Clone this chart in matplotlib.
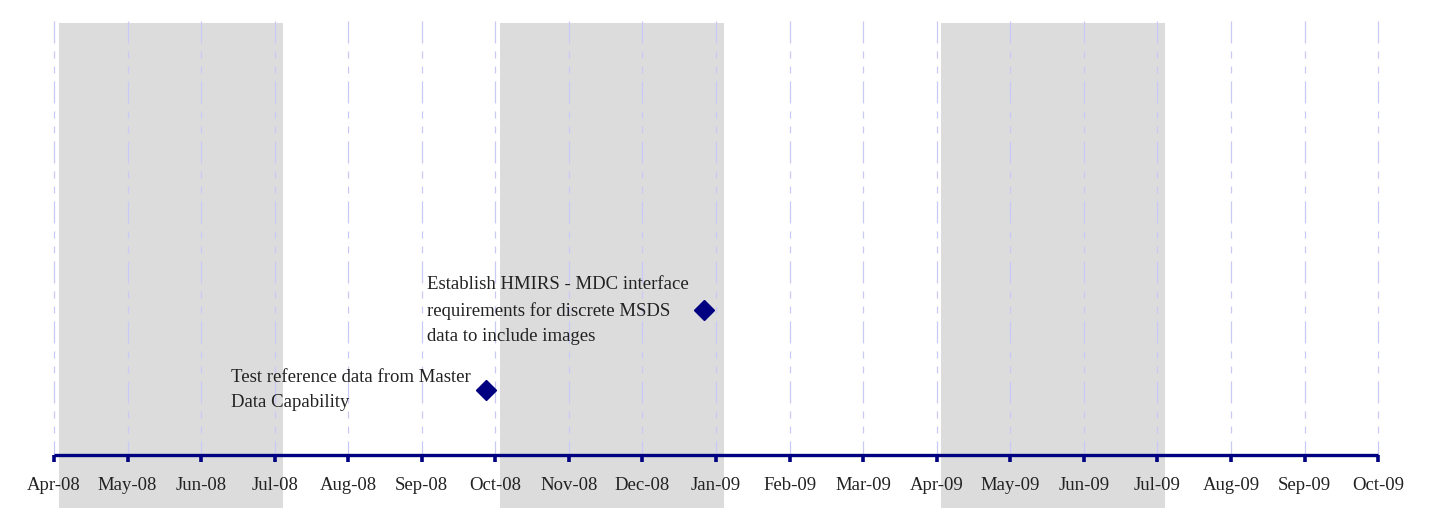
import datetime as dt
import matplotlib
matplotlib.use("Agg")
import matplotlib.pyplot as plt

plt.rcParams['font.family'] = ['Liberation Serif', 'DejaVu Serif']
plt.rcParams['lines.scale_dashes'] = False

# ---- data ----
month_labels = ["Apr-08", "May-08", "Jun-08", "Jul-08", "Aug-08", "Sep-08", "Oct-08",
                "Nov-08", "Dec-08", "Jan-09", "Feb-09", "Mar-09", "Apr-09", "May-09",
                "Jun-09", "Jul-09", "Aug-09", "Sep-09", "Oct-09"]
start_year, start_month = 2008, 4

milestone_dates = ["2008-09-27", "2008-12-27"]
milestone_heights = [0.9, 2.0]
milestone_labels = ["Test reference data from Master\nData Capability",
                    "Establish HMIRS - MDC interface\nrequirements for discrete MSDS\ndata to include images"]

shaded_quarter_starts = [0, 6, 12]   # month index where a shaded quarter begins
quarter_length = 3

NAVY = "#000080"
GRID = "#c9c9f5"
BAND = "#dcdcdc"
TEXT = "#222222"

def month_pos(s):
    d = dt.date.fromisoformat(s)
    idx = (d.year - start_year) * 12 + (d.month - start_month)
    nxt = dt.date(d.year + (d.month // 12), d.month % 12 + 1, 1)
    days = (nxt - dt.date(d.year, d.month, 1)).days
    return idx + (d.day - 1) / days

months = list(range(len(month_labels)))
mx = [month_pos(s) for s in milestone_dates]

fig = plt.figure(figsize=(14.52, 5.08), dpi=100)
ax = fig.add_axes([0, 0, 1, 1])
ax.set_axis_off()

px_per_month = 73.56
ax.set_xlim(-54 / px_per_month, (1452 - 54) / px_per_month)
px_per_unit = 434 / 6.0
ax.set_ylim(-53 / px_per_unit, 6 + 21 / px_per_unit)

# shaded quarters (slightly offset, like a shadow)
for s in shaded_quarter_starts:
    ax.axvspan(s + 4.5 / px_per_month, s + quarter_length + 8 / px_per_month,
               ymin=0, ymax=(508 - 23) / 508, color=BAND, lw=0, zorder=0)

# dashed vertical grid lines (dash-dot-dot)
ax.vlines(months, 6, 0, colors=GRID, linewidth=0.9,
          linestyles=[(0, (15.8, 5.8, 5.0, 5.8, 5.0, 5.8))], zorder=1)

# time axis line
ax.plot([months[0], months[-1]], [0, 0], color=NAVY, lw=2.4, solid_capstyle='butt', zorder=3)
ax.plot(months, [0] * len(months), linestyle='none', marker=3, markersize=5,
        markeredgewidth=2.6, color=NAVY, zorder=3)

for m, lab in zip(months, month_labels):
    ax.annotate(lab, (m, 0), xytext=(0, -30), textcoords='offset pixels',
                ha='center', va='center', fontsize=13.5, color=TEXT)

# milestones
ax.plot(mx, milestone_heights, linestyle='none', marker='D', markersize=10.5,
        color=NAVY, zorder=4)
for x, y, lab in zip(mx, milestone_heights, milestone_labels):
    ax.annotate(lab, (x, y), xytext=(-15, 0), textcoords='offset pixels',
                ha='right', va='center', multialignment='left',
                fontsize=13.5, linespacing=1.62, color=TEXT, zorder=5)

fig.savefig("out.png", dpi=100, facecolor="white")
